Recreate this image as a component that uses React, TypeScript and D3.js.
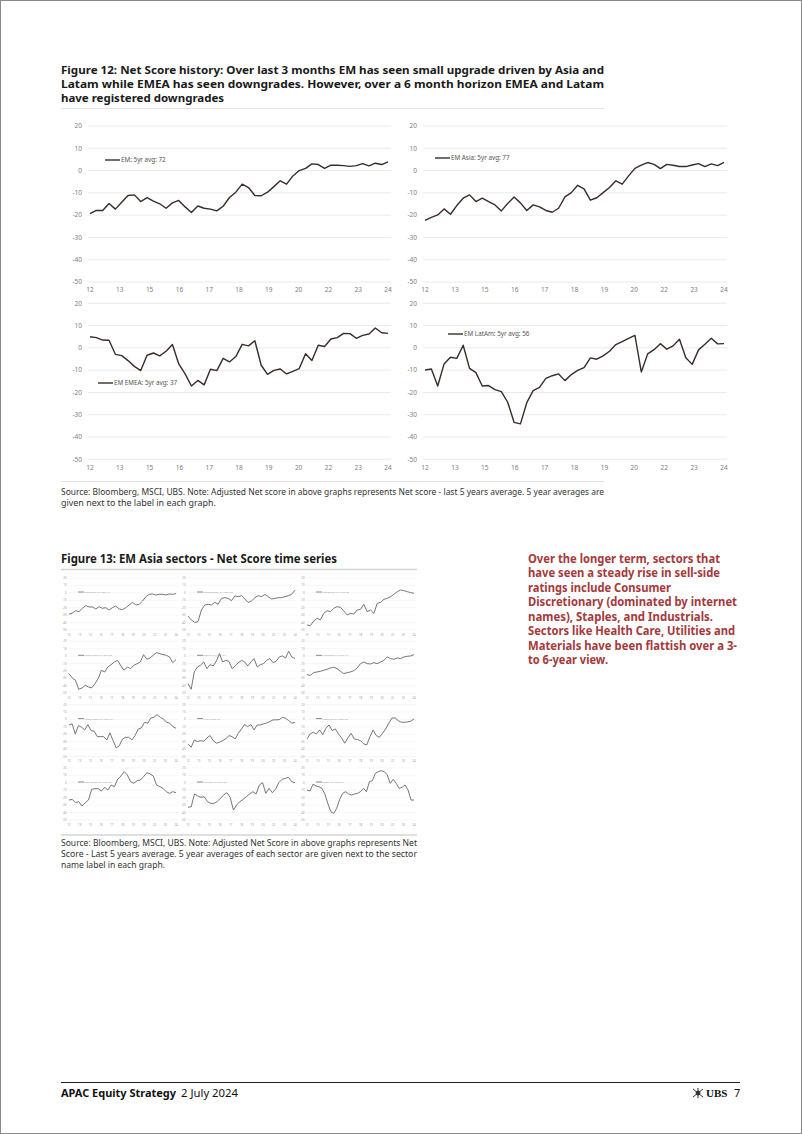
import React from "react";
import * as d3 from "d3";

const SANS = "'Noto Sans', 'Open Sans', 'DejaVu Sans', sans-serif";
const LINE_DARK = "#3a2c28";
const GRID = "#e4e4e4";
const AXIS_TXT = "#7d7d7d";
const RED = "#a5393b";

// ---------- Figure 12 data ----------
const netScoreXLabels = ["12", "13", "15", "16", "17", "18", "19", "20", "22", "23", "24"];
const netScoreYTicks = [20, 10, 0, -10, -20, -30, -40, -50];

const emSeries = [-19.3, -17.9, -17.9, -14.8, -17.3, -14.2, -11.2, -10.9, -13.9, -12.1, -13.7, -14.9, -16.9, -14.5, -13.4, -16.3, -18.8, -15.9, -16.9, -17.3, -18.1, -16.0, -12.1, -9.7, -6.1, -7.6, -11.2, -11.3, -9.7, -7.2, -4.6, -6.1, -2.4, 0, 1.0, 3.0, 2.7, 1.0, 2.4, 2.4, 2.2, 1.9, 2.2, 3.1, 2.1, 3.3, 2.7, 3.9];
const emAsiaSeries = [-22.4, -21.0, -19.9, -17.2, -19.6, -15.7, -12.4, -10.9, -13.9, -12.4, -13.9, -15.4, -18.1, -14.8, -11.9, -14.5, -17.9, -15.4, -16.3, -17.9, -18.7, -16.9, -11.8, -9.9, -6.6, -8.2, -13.3, -12.2, -9.9, -7.6, -4.6, -6.1, -2.4, 1.0, 2.4, 3.6, 2.8, 0.9, 2.8, 2.4, 1.8, 1.8, 2.5, 3.1, 1.8, 3.0, 2.2, 3.7];
const emEmeaSeries = [5.0, 4.6, 3.5, 3.4, -2.9, -3.5, -5.7, -8.3, -10.2, -3.3, -2.3, -3.6, -1.5, 1.5, -7.2, -11.7, -17.1, -14.6, -16.6, -9.6, -10.2, -4.7, -6.3, -3.9, 1.6, 0.9, 3.2, -7.8, -11.9, -10.1, -9.5, -11.7, -10.5, -9.3, -2.6, -5.7, 1.2, 0.6, 4.0, 4.6, 6.5, 6.4, 4.3, 5.6, 6.2, 8.9, 6.8, 6.5];
const emLatamSeries = [-9.9, -9.5, -17.1, -7.2, -4.2, -4.7, 1.2, -9.2, -11.1, -17.1, -16.9, -18.7, -19.6, -24.4, -33.4, -34.1, -24.6, -19.2, -17.7, -13.7, -12.5, -11.7, -14.7, -12.0, -10.1, -8.9, -4.5, -5.1, -3.6, -1.5, 1.5, 2.8, 4.3, 5.6, -10.8, -2.7, -0.8, 1.9, -0.6, 0.9, 3.9, -4.4, -7.4, -0.9, 1.6, 4.3, 1.8, 1.9];

// ---------- Figure 13 data (EM Asia sectors) ----------
const sectorConsDisc = [-28.9, -27.1, -24, -25.3, -20.8, -17.2, -19, -19, -21.7, -18.6, -20.8, -19.9, -23.1, -19.9, -17.7, -21.7, -22.6, -19.9, -16.3, -12.8, -16.3, -15.4, -11, -5.1, -2, -1.5, -2.9, -2, -2, -2.9, -1.5, -2, -1.1];
const sectorStaples = [-31.2, -36.5, -39.7, -38.8, -23.1, -16.3, -15.4, -16.3, -12.8, -15.4, -7.4, -6.5, -7.4, -10.5, -4.2, -5.1, -3.8, -8.3, -12.8, -11, -6.5, -3.8, -5.1, -2, -5.1, -8.3, -7.4, -6.5, -6.5, -5.1, -3.8, -2, 3.8];
const sectorIndustrials = [-43.3, -44.2, -37.9, -34.3, -36.5, -27.6, -24, -25.3, -20.8, -18.6, -19.5, -24.4, -29.8, -27.6, -28.5, -23.1, -22.2, -15.4, -25.3, -23.1, -27.6, -14.1, -12.8, -8.7, -7.4, -5.1, -2, 1.6, 3.8, 2.9, 1.6, 0.3, -0.6];
const sectorCommServ = [-23.5, -29.4, -32.5, -44.6, -42.9, -39.2, -41.5, -42.8, -37, -30.3, -19, -21.3, -14.5, -11.4, -7.8, -5.6, -13.2, -19, -14.5, -16.8, -12.3, -10.1, -7.8, 2, -4.2, -2.4, 1.2, 4.7, 3.4, 2, 1.2, -1.1, -8.7, -4.7];
const sectorEnergy = [-37, -44.6, -21.3, -14.5, -12.3, -7.8, -16.8, -11.4, -13.2, -6.9, 3.4, -7.8, -5.6, -6.9, -16.8, -13.2, -8.7, -5.6, -7.8, -13.2, -7.8, -3.3, -14.5, -11.4, -10.1, -5.6, -3.3, -8.7, -6.9, -1.1, 0.3, -2.4, 6.5, -1.1, -3.3];
const sectorFinancials = [-24.9, -25.8, -22.2, -21.3, -20.4, -19, -17.7, -15.9, -15, -16.8, -20.4, -23.5, -22.2, -21.3, -19.5, -15.9, -10.1, -7.8, -10.1, -10.5, -8.7, -10.1, -7.8, -5.6, -1.1, -3.3, -4.2, -2.4, -3.3, -1.1, -0.2, 0.3, 2];
const sectorHealthCare = [-7.4, -6, -19.5, -8.3, -10.5, -14.1, -6.9, -15, -15.9, -23.1, -23.1, -23.1, -27.6, -18.1, -28.5, -38.3, -35.2, -26.2, -24, -24, -27.6, -21.7, -12.8, -11.4, -3.8, -5.1, 2, 2.9, 6.5, 2.9, 0.7, -3.8, -5.1, -9.6, -11.9];
const sectorIT = [-32.9, -37.4, -27.6, -29.8, -28.5, -29.4, -24.9, -21.7, -28.5, -32, -30.7, -28.5, -26.2, -21.7, -23.1, -26.2, -18.6, -12.8, -6.9, -9.6, -6.9, -14.1, -7.4, -7.4, -6, -4.7, -2.9, -0.6, -0.6, -0.2, 2.9, 1.6, -1.5, -5.1, -3.8];
const sectorMaterials = [-26.2, -19.5, -17.2, -19.5, -14.1, -20.4, -11.9, -7.4, -15, -12.8, -19.5, -24.9, -32, -24.9, -18.6, -26.2, -27.1, -28.5, -32.9, -34.3, -23.1, -14.1, -21.7, -24, -18.6, -12.8, -5.1, 2, 2, -1.5, -3.8, -3.8, -3.3, -2.4, 0.7];
const sectorRealEstate = [-23.1, -22.2, -26.7, -25.3, -31.2, -26.7, -23.1, -8.7, -7.8, -7.8, -11, -6, -9.6, -2.9, -5.1, 4.7, 9.2, 15.1, 10.6, 1.6, -0.6, 2.9, 3.8, 8.3, 13.7, 11.9, 9.2, -2.9, -5.1, -7.4, -11.9, -14.1, -11.9, -13.2];
const sectorUtilities = [-32.9, -32, -15, -17.7, -19.5, -18.6, -25.3, -27.6, -27.6, -25.3, -20.8, -16.3, -13.2, -19.5, -36.5, -29.8, -25.3, -22.2, -18.6, -15, -11.9, -15, -2.9, 0.3, -14.1, -7.4, -13.2, -8.7, 0.3, 4.7, 6.1, 7.4, 1.6, 0.3];
const sectorSemis = [-9.6, -11, -2, -4.2, -5.1, -7.4, -15, -27.6, -38.8, -41, -34.3, -22.2, -14.1, -11.9, -15, -16.3, -15, -14.1, -11.9, -7.4, -11.9, 1.6, 2.9, 12.8, 15.1, 16.4, 15.1, 10.6, -0.6, 4.7, -0.6, -7.4, -6, -2.9, -9.6, -23.1, -23.1];

const sectorLabels = [
  "Cons Disc: 5Yr avg: 71", "Cons Staples: 5Yr avg: 58", "Industrials: 5Yr avg: 66",
  "Comm Serv: 5Yr avg: 82", "Energy: 5Yr avg: 61", "Financials: 5Yr avg: 74",
  "Health Care: 5Yr avg: 79", "IT: 5Yr avg: 77", "Materials: 5Yr avg: 52",
  "Real Estate: 5Yr avg: 63", "Utilities: 5Yr avg: 55", "Semis: 5Yr avg: 84",
];
const sectorSeries = [
  sectorConsDisc, sectorStaples, sectorIndustrials,
  sectorCommServ, sectorEnergy, sectorFinancials,
  sectorHealthCare, sectorIT, sectorMaterials,
  sectorRealEstate, sectorUtilities, sectorSemis,
];

// ---------- Texts ----------
const fig12Title = [
  "Figure 12: Net Score history: Over last 3 months EM has seen small upgrade driven by Asia and",
  "Latam while EMEA has seen downgrades. However, over a 6 month horizon EMEA and Latam",
  "have registered downgrades",
];
const fig12Source = [
  "Source: Bloomberg, MSCI, UBS. Note: Adjusted Net score in above graphs represents Net score - last 5 years average. 5 year averages are",
  "given next to the label in each graph.",
];
const fig13Title = "Figure 13: EM Asia sectors - Net Score time series";
const fig13Source = [
  "Source: Bloomberg, MSCI, UBS. Note: Adjusted Net Score in above graphs represents Net",
  "Score - Last 5 years average. 5 year averages of each sector are given next to the sector",
  "name label in each graph.",
];
const sideText = [
  "Over the longer term, sectors that",
  "have seen a steady rise in sell-side",
  "ratings include Consumer",
  "Discretionary (dominated by internet",
  "names), Staples, and Industrials.",
  "Sectors like Health Care, Utilities and",
  "Materials have been flattish over a 3-",
  "to 6-year view.",
];

function FitText(props: { x: number; y: number; w?: number; size: number; weight?: number | string; fill?: string; children: string; adjust?: string }) {
  const { x, y, w, size, weight, fill, children, adjust } = props;
  return (
    <text
      x={x}
      y={y}
      fontSize={size}
      fontWeight={weight ?? "normal"}
      fill={fill ?? "#222"}
      textLength={w}
      lengthAdjust={w ? (adjust ?? "spacingAndGlyphs") : undefined}
      fontFamily={SANS}
    >
      {children}
    </text>
  );
}

type ChartProps = {
  left: number; right: number; top: number; bottom: number;
  labelY: number; labelRight: number;
  data: number[]; legend: string; legX: number; legY: number;
};

function NetScoreChart(p: ChartProps) {
  const y = d3.scaleLinear().domain([-50, 20]).range([p.bottom, p.top]);
  const x = d3.scaleLinear().domain([0, p.data.length - 1]).range([p.left, p.right]);
  const xl = d3.scalePoint<string>().domain(netScoreXLabels).range([p.left, p.right]);
  const line = d3.line<number>().x((_, i) => x(i)).y((d) => y(d));
  return (
    <g fontFamily={SANS}>
      {netScoreYTicks.map((t) => (
        <g key={t}>
          <line x1={p.left - 2} x2={p.right + 3} y1={y(t)} y2={y(t)} stroke={GRID} strokeWidth={0.8} />
          <text x={p.labelRight} y={y(t) + 2.3} textAnchor="end" fontSize={6.5} fill={AXIS_TXT}>{t}</text>
        </g>
      ))}
      {netScoreXLabels.map((l) => (
        <text key={l} x={xl(l)} y={p.labelY} textAnchor="middle" fontSize={6.5} fill={AXIS_TXT}>{l}</text>
      ))}
      <path d={line(p.data) ?? ""} fill="none" stroke={LINE_DARK} strokeWidth={1.4} strokeLinejoin="round" />
      <line x1={p.legX} x2={p.legX + 15} y1={p.legY} y2={p.legY} stroke={LINE_DARK} strokeWidth={1.4} />
      <text x={p.legX + 16} y={p.legY + 2.2} fontSize={6.3} fill="#555">{p.legend}</text>
    </g>
  );
}

function SmallPanel(p: { left: number; top: number; w: number; h: number; data: number[]; legend: string }) {
  const y = d3.scaleLinear().domain([-50, 20]).range([p.top + p.h, p.top]);
  const x = d3.scaleLinear().domain([0, p.data.length - 1]).range([p.left, p.left + p.w]);
  const xl = d3.scalePoint<string>().domain(netScoreXLabels).range([p.left, p.left + p.w]);
  const line = d3.line<number>().x((_, i) => x(i)).y((d) => y(d));
  return (
    <g fontFamily={SANS}>
      {netScoreYTicks.map((t) => (
        <g key={t}>
          <line x1={p.left - 1} x2={p.left + p.w + 2} y1={y(t)} y2={y(t)} stroke="#ececec" strokeWidth={0.5} />
          <text x={p.left - 2.5} y={y(t) + 1} textAnchor="end" fontSize={2.8} fill="#999">{t}</text>
        </g>
      ))}
      {netScoreXLabels.map((l) => (
        <text key={l} x={xl(l)} y={p.top + p.h + 5.5} textAnchor="middle" fontSize={2.8} fill="#999">{l}</text>
      ))}
      <path d={line(p.data) ?? ""} fill="none" stroke="#5f5f5f" strokeWidth={0.85} strokeLinejoin="round" />
      <line x1={p.left + 9} x2={p.left + 15} y1={p.top + 14} y2={p.top + 14} stroke="#6a6a6a" strokeWidth={0.8} />
      <text x={p.left + 15.5} y={p.top + 14.9} fontSize={2.5} fill="#999">{p.legend}</text>
    </g>
  );
}

export default function App() {
  const colLefts = [69, 188, 307];
  const rowTops = [578, 641.3, 704.6, 768];
  return (
    <svg
      width={802}
      height={1134}
      viewBox="0 0 802 1134"
      style={{ position: "absolute", left: 0, top: 0, background: "#fff" }}
      fontFamily={SANS}
    >
      <rect x={0.5} y={0.5} width={801} height={1133} fill="#fff" stroke="#8a8a8a" strokeWidth={1} />

      {/* Figure 12 title */}
      <FitText x={61} y={74} w={543} size={11} weight="bold" fill="#1a1a1a">{fig12Title[0]}</FitText>
      <FitText x={61} y={88} w={543} size={11} weight="bold" fill="#1a1a1a">{fig12Title[1]}</FitText>
      <FitText x={61} y={102} w={163} size={11} weight="bold" fill="#1a1a1a">{fig12Title[2]}</FitText>
      <line x1={61} x2={604} y1={108.5} y2={108.5} stroke="#e2e2e2" strokeWidth={1} />

      <NetScoreChart left={90} right={388} top={126} bottom={282} labelY={291.5} labelRight={82}
        data={emSeries} legend="EM: 5yr avg: 72" legX={105} legY={160} />
      <NetScoreChart left={425} right={724} top={126} bottom={282} labelY={291.5} labelRight={417}
        data={emAsiaSeries} legend="EM Asia: 5yr avg: 77" legX={435} legY={158} />
      <NetScoreChart left={90} right={388} top={303.3} bottom={459.3} labelY={469.5} labelRight={82}
        data={emEmeaSeries} legend="EM EMEA: 5yr avg: 37" legX={98} legY={383} />
      <NetScoreChart left={425} right={724} top={303.3} bottom={459.3} labelY={469.5} labelRight={417}
        data={emLatamSeries} legend="EM LatAm: 5yr avg: 56" legX={448} legY={334} />

      <line x1={61} x2={604} y1={481.5} y2={481.5} stroke="#e2e2e2" strokeWidth={1} />
      <FitText x={61} y={495} w={543} size={8} fill="#333">{fig12Source[0]}</FitText>
      <FitText x={61} y={506} w={155} size={8} fill="#333">{fig12Source[1]}</FitText>

      {/* Figure 13 */}
      <FitText x={61} y={563} w={276} size={11.5} weight="bold" fill="#1a1a1a">{fig13Title}</FitText>
      <line x1={61} x2={417} y1={569.5} y2={569.5} stroke="#d4d4d4" strokeWidth={1.3} />
      {sectorSeries.map((s, i) => (
        <SmallPanel key={i} left={colLefts[i % 3]} top={rowTops[Math.floor(i / 3)]} w={107} h={52}
          data={s} legend={sectorLabels[i]} />
      ))}
      <line x1={61} x2={417} y1={835} y2={835} stroke="#d4d4d4" strokeWidth={1.3} />
      <FitText x={61} y={846} w={356} size={8} fill="#333">{fig13Source[0]}</FitText>
      <FitText x={61} y={857} w={356} size={8} fill="#333">{fig13Source[1]}</FitText>
      <FitText x={61} y={868} w={104} size={8} fill="#333">{fig13Source[2]}</FitText>

      {/* Side commentary */}
      {sideText.map((t, i) => (
        <text key={i} x={528} y={563 + i * 14.45} fontSize={11.6} fontWeight="bold" fill={RED} fontFamily={SANS}
          textLength={[192, 192, 143, 209, 185, 207, 209, 80][i]} lengthAdjust="spacingAndGlyphs">{t}</text>
      ))}

      {/* Footer */}
      <line x1={61} x2={740} y1={1082.5} y2={1082.5} stroke="#222" strokeWidth={1} />
      <FitText x={61} y={1097} w={115} size={11} weight="bold" fill="#111">APAC Equity Strategy</FitText>
      <FitText x={181} y={1097} w={57} size={11} fill="#111">2 July 2024</FitText>
      <g stroke="#333" strokeWidth={1} fill="none">
        <line x1={693} y1={1089} x2={703} y2={1097} />
        <line x1={703} y1={1089} x2={693} y2={1097} />
        <line x1={698} y1={1088} x2={698} y2={1098} />
        <circle cx={698} cy={1093} r={2} fill="#333" />
      </g>
      <text x={706} y={1097} fontSize={11} fontWeight="bold" fontFamily="'Liberation Serif', 'DejaVu Serif', serif" fill="#111">UBS</text>
      <text x={734} y={1097} fontSize={11} fontFamily={SANS} fill="#111">7</text>
    </svg>
  );
}
